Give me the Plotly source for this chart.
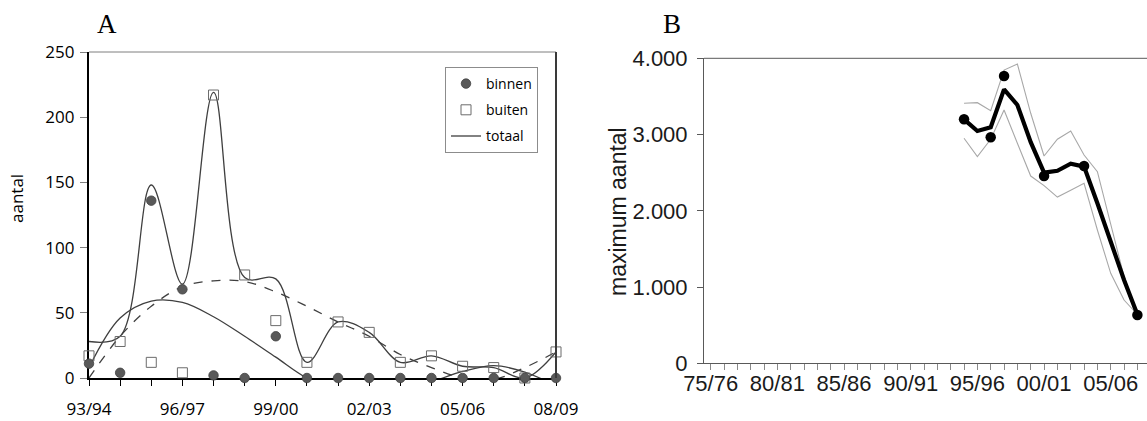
import plotly.graph_objects as go

# ---------------- Panel A data ----------------
seasons_a = ["93/94", "94/95", "95/96", "96/97", "97/98", "98/99", "99/00", "00/01",
             "01/02", "02/03", "03/04", "04/05", "05/06", "06/07", "07/08", "08/09"]
binnen = [11, 4, 136, 68, 2, 0, 32, 0, 0, 0, 0, 0, 0, 0, 0, 0]
buiten = [17, 28, 12, 4, 217, 79, 44, 12, 43, 35, 12, 17, 9, 8, 0, 20]
totaal = [28, 32, 148, 72, 219, 77, 76, 12, 43, 35, 12, 17, 9, 8, 0, 20]
# trend lines (values below 0 are hidden by the axis)
trend_binnen = [8, 46, 59, 58, 47, 32, 16, 0, -9, -13, -10, -3, 5, 9.5, 4.5, -6]
trend_buiten = [0, 32, 55, 70, 74.5, 74, 66, 55, 43, 32, 18, 8, 0, -1, 8, 20]
a_label_every = 3
a_yticks = [0, 50, 100, 150, 200, 250]

# ---------------- Panel B data ----------------
seasons_b = ["75/76", "76/77", "77/78", "78/79", "79/80", "80/81", "81/82", "82/83",
             "83/84", "84/85", "85/86", "86/87", "87/88", "88/89", "89/90", "90/91",
             "91/92", "92/93", "93/94", "94/95", "95/96", "96/97", "97/98", "98/99",
             "99/00", "00/01", "01/02", "02/03", "03/04", "04/05", "05/06", "06/07", "07/08"]
b_seasons_data = ["94/95", "95/96", "96/97", "97/98", "98/99", "99/00", "00/01",
                  "01/02", "02/03", "03/04", "04/05", "05/06", "06/07", "07/08"]
b_trend = [3200, 3046, 3095, 3593, 3388, 2900, 2500, 2525, 2618, 2580, 2100, 1600, 1092, 640]
b_upper = [3410, 3418, 3313, 3846, 3925, 3279, 2719, 2938, 3046, 2732, 2513, 1836, 1136, 640]
b_lower = [2951, 2710, 2938, 3322, 2885, 2456, 2330, 2180, 2270, 2361, 1748, 1180, 830, 640]
b_obs_seasons = ["94/95", "96/97", "97/98", "00/01", "03/04", "07/08"]
b_obs = [3200, 2964, 3768, 2456, 2588, 634]
b_label_every = 5
b_yticks = [0, 1000, 2000, 3000, 4000]
b_yticktext = ["0", "1.000", "2.000", "3.000", "4.000"]

xa = list(range(len(seasons_a)))
idx_b = {s: i for i, s in enumerate(seasons_b)}
xb = [idx_b[s] for s in b_seasons_data]
xb_obs = [idx_b[s] for s in b_obs_seasons]

LINE = "#3f3f3f"
GRAY_M = "#595959"
FONT_A = "Open Sans"
FONT_B = "Liberation Sans"

fig = go.Figure()

# ----- Panel A traces -----
fig.add_trace(go.Scatter(x=xa, y=trend_binnen, mode="lines", line=dict(color=LINE, width=1.3, shape="spline", smoothing=1),
                         showlegend=False, xaxis="x", yaxis="y", hoverinfo="skip"))
fig.add_trace(go.Scatter(x=xa, y=trend_buiten, mode="lines", line=dict(color=LINE, width=1.3, dash="dash", shape="spline", smoothing=1),
                         showlegend=False, xaxis="x", yaxis="y", hoverinfo="skip"))
fig.add_trace(go.Scatter(x=xa, y=totaal, mode="lines", name="totaal", legendgroup="c",
                         line=dict(color=LINE, width=1.3, shape="spline", smoothing=1),
                         xaxis="x", yaxis="y", legendrank=3))
fig.add_trace(go.Scatter(x=xa, y=buiten, mode="markers", name="buiten", legendgroup="b",
                         marker=dict(symbol="square-open", size=10, color="#6b6b6b", line=dict(width=1)),
                         xaxis="x", yaxis="y", cliponaxis=False, legendrank=2))
fig.add_trace(go.Scatter(x=xa, y=binnen, mode="markers", name="binnen", legendgroup="a",
                         marker=dict(symbol="circle", size=9.5, color=GRAY_M, line=dict(color="#404040", width=0.8)),
                         xaxis="x", yaxis="y", cliponaxis=False, legendrank=1))

# ----- Panel B traces -----
fig.add_trace(go.Scatter(x=xb, y=b_upper, mode="lines", line=dict(color="#a8a8a8", width=1.1),
                         showlegend=False, xaxis="x2", yaxis="y2"))
fig.add_trace(go.Scatter(x=xb, y=b_lower, mode="lines", line=dict(color="#a8a8a8", width=1.1),
                         showlegend=False, xaxis="x2", yaxis="y2"))
fig.add_trace(go.Scatter(x=xb, y=b_trend, mode="lines", line=dict(color="#000000", width=4.2),
                         showlegend=False, xaxis="x2", yaxis="y2"))
fig.add_trace(go.Scatter(x=xb_obs, y=b_obs, mode="markers",
                         marker=dict(symbol="circle", size=10.5, color="#000000"),
                         showlegend=False, xaxis="x2", yaxis="y2", cliponaxis=False))

W, H = 1147, 421
def px_x(p):
    return p / W
def px_y(p):
    return 1 - p / H

a_ticktext = [s if i % a_label_every == 0 else "" for i, s in enumerate(seasons_a)]
b_ticktext = [s if i % b_label_every == 0 else "" for i, s in enumerate(seasons_b)]

fig.update_layout(
    width=W, height=H,
    margin=dict(l=0, r=0, t=0, b=0, autoexpand=False),
    paper_bgcolor="white", plot_bgcolor="white",
    showlegend=True,
    legend=dict(x=px_x(445), y=px_y(67), xanchor="left", yanchor="top",
                bordercolor="#8c8c8c", borderwidth=1, bgcolor="white",
                font=dict(family=FONT_A, size=14, color="#000"),
                itemwidth=30, tracegroupgap=5),
    xaxis=dict(domain=[px_x(89), px_x(556)], range=[0, 15], anchor="y", automargin=False,
               tickmode="array", tickvals=xa, ticktext=a_ticktext,
               ticks="outside", ticklen=6, tickcolor="#000", tickwidth=1,
               showline=True, linecolor="#000", linewidth=1.5, showgrid=False, zeroline=False,
               tickfont=dict(family=FONT_A, size=17, color="#000"), ticklabelstandoff=9,
               layer="below traces"),
    yaxis=dict(domain=[px_y(378), px_y(52)], range=[0, 250], anchor="x", automargin=False,
               tickmode="array", tickvals=a_yticks,
               ticks="outside", ticklen=7, tickcolor="#7f7f7f", tickwidth=1,
               showline=True, linecolor="#000", linewidth=2.2, showgrid=False, zeroline=False,
               tickfont=dict(family=FONT_A, size=17, color="#000"), ticklabelstandoff=2,
               layer="below traces"),
    xaxis2=dict(domain=[px_x(704), 1.0], range=[-0.5, 32.72], anchor="y2", automargin=False,
                tickmode="array", tickvals=list(range(len(seasons_b))), ticktext=b_ticktext,
                ticks="outside", ticklen=6, tickcolor="#8a8a8a", tickwidth=1,
                showline=True, linecolor="#595959", linewidth=1, showgrid=False, zeroline=False,
                tickfont=dict(family=FONT_B, size=22, color="#1a1a1a"), ticklabelstandoff=-6),
    yaxis2=dict(domain=[px_y(363.3), px_y(58.3)], range=[0, 4000], anchor="x2", automargin=False,
                tickmode="array", tickvals=b_yticks, ticktext=b_yticktext,
                ticks="outside", ticklen=6, tickcolor="#595959", tickwidth=1,
                showline=True, linecolor="#595959", linewidth=1, showgrid=False, zeroline=False,
                tickfont=dict(family=FONT_B, size=22, color="#1a1a1a"), ticklabelstandoff=5),
    shapes=[
        dict(type="line", xref="x domain", yref="y domain", x0=0, x1=1, y0=1, y1=1,
             line=dict(color="#7f7f7f", width=1)),
        dict(type="line", xref="x domain", yref="y domain", x0=1, x1=1, y0=0, y1=1,
             line=dict(color="#3a3a3a", width=2)),
        dict(type="line", xref="x2 domain", yref="y2 domain", x0=0, x1=1, y0=1, y1=1,
             line=dict(color="#595959", width=1)),
    ],
    annotations=[
        dict(text="A", x=px_x(107), y=px_y(24), xref="paper", yref="paper", showarrow=False,
             font=dict(family="Liberation Serif", size=27, color="#000"), xanchor="center", yanchor="middle"),
        dict(text="B", x=px_x(672), y=px_y(24), xref="paper", yref="paper", showarrow=False,
             font=dict(family="Liberation Serif", size=27, color="#000"), xanchor="center", yanchor="middle"),
        dict(text="aantal", x=px_x(16), y=px_y(199), xref="paper", yref="paper", showarrow=False,
             textangle=-90, font=dict(family=FONT_A, size=17, color="#000"), xanchor="center", yanchor="middle"),
        dict(text="maximum aantal", x=px_x(618), y=px_y(211), xref="paper", yref="paper", showarrow=False,
             textangle=-90, font=dict(family=FONT_B, size=23, color="#1a1a1a"), xanchor="center", yanchor="middle"),
    ],
)

fig.write_html("out.html", config={"displayModeBar": False},
               post_script="document.body.style.margin='0';document.body.style.overflow='hidden';")
